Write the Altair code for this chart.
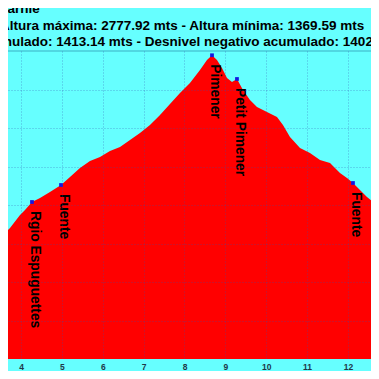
import altair as alt
import pandas as pd

km = [3.486, 3.731, 3.976, 4.098, 4.269, 4.465, 4.709, 4.979, 5.199, 5.443,
      5.688, 5.933, 6.177, 6.422, 6.667, 6.911, 7.156, 7.401, 7.645, 7.890,
      8.134, 8.379, 8.550, 8.673, 8.795, 8.917, 9.040, 9.162, 9.284, 9.431,
      9.602, 9.774, 10.018, 10.263, 10.409, 10.581, 10.826, 11.070, 11.315,
      11.560, 11.804, 11.976, 12.122, 12.465, 12.759]
alt_m = [1828.6, 1880.5, 1948.1, 1974.1, 2015.6, 2036.4, 2067.6, 2103.9, 2145.5, 2192.2,
         2228.6, 2249.4, 2280.6, 2301.3, 2337.7, 2374.1, 2415.6, 2467.6, 2524.7, 2581.9,
         2633.8, 2701.4, 2753.3, 2777.92, 2753.3, 2711.7, 2659.8, 2639.0, 2654.6, 2597.5,
         2545.5, 2509.1, 2483.2, 2457.2, 2415.6, 2353.3, 2296.1, 2270.2, 2233.8,
         2218.2, 2166.3, 2140.3, 2114.3, 2041.6, 1989.6]

# Waypoints
wp_names = ["Rgio Espuguettes", "Fuente", "Pimener", "Petit Pimener", "Fuente"]
wp_km = [4.269, 4.979, 8.673, 9.284, 12.122]
wp_alt = [2015.6, 2103.9, 2777.92, 2654.6, 2114.3]

title_lines = [
    "varnie",
    "Altura máxima: 2777.92 mts - Altura mínima: 1369.59 mts",
    "mulado: 1413.14 mts - Desnivel negativo acumulado: 1402.",
]
x_ticks = [4, 5, 6, 7, 8, 9, 10, 11, 12]
y_grid = [1400, 1600, 1800, 2000, 2200, 2400, 2600]
y_top = [2800]
x_domain = [3.682, 12.563]
y_domain = [1200, 2800]

prof = pd.DataFrame({"km": km, "alt": alt_m})
wps = pd.DataFrame({"km": wp_km, "alt": wp_alt, "name": wp_names})
top = pd.DataFrame({"y": y_top})

FONT = "Liberation Sans"
xs = alt.Scale(domain=x_domain, nice=False, zero=False)
ys = alt.Scale(domain=y_domain, nice=False, zero=False)

grid_col = "#3050B0"

area = alt.Chart(prof).mark_area(color="#FF0000", clip=True, interpolate="linear").encode(
    x=alt.X("km:Q", scale=xs, axis=alt.Axis(
        values=x_ticks, grid=True, gridColor=grid_col, gridOpacity=0.45, gridDash=[1, 2],
        domain=False, ticks=False, tickSize=0, labelFont=FONT, labelFontSize=8.5,
        labelFontWeight="bold", labelColor="#203848", labelPadding=3, title=None,
        zindex=1, labelFlush=False)),
    y=alt.Y("alt:Q", scale=ys, axis=alt.Axis(
        values=y_grid, grid=True, gridColor=grid_col, gridOpacity=0.45, gridDash=[1, 2],
        labels=False, ticks=False, domain=False, title=None, zindex=1)),
    y2=alt.datum(y_domain[0]),
)

border = alt.Chart(top).mark_rule(color="#3AAFC4", strokeWidth=1).encode(
    y=alt.Y("y:Q", scale=ys)
)

markers = alt.Chart(wps).mark_square(size=14, color="#1515E0", opacity=1, clip=True).encode(
    x=alt.X("km:Q", scale=xs), y=alt.Y("alt:Q", scale=ys)
)

labels = alt.Chart(wps).mark_text(
    angle=90, align="left", baseline="alphabetic", dx=9, dy=1,
    font=FONT, fontSize=13.8, fontWeight="bold", color="#000000"
).encode(
    x=alt.X("km:Q", scale=xs), y=alt.Y("alt:Q", scale=ys), text="name:N"
)

chart = alt.layer(area, border, markers, labels).properties(
    width=363, height=308,
    autosize=alt.AutoSizeParams(type="none"),
    padding={"left": 0, "top": 43, "right": 0, "bottom": 12},
    background="#66FFFF",
    title=alt.TitleParams(
        text=title_lines, anchor="start", frame="group", dx=-8, dy=15, offset=3,
        baseline="bottom", font=FONT, fontSize=13.5, fontWeight="bold",
        color="#000000", lineHeight=16.5,
    ),
).configure_view(stroke=None)

chart.save("out.html", embed_options={"renderer": "svg", "actions": False})
